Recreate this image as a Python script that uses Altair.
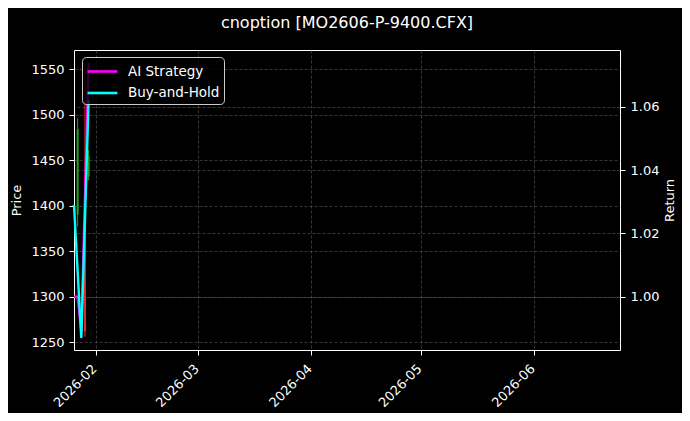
import altair as alt
import pandas as pd

# ---- data ----
candle_dates = ["2026-01-27", "2026-01-29", "2026-01-30"]
candle_open = [1390, 1420, 1432]
candle_high = [1496, 1556, 1461]
candle_low = [1377, 1256, 1428]
candle_close = [1484, 1262, 1455]

ai_dates = ["2026-01-26", "2026-01-27", "2026-01-28", "2026-01-30"]
ai_values = [1.000, 1.000, 0.989, 1.074]
bh_dates = ["2026-01-26", "2026-01-28", "2026-01-30"]
bh_values = [1.029, 0.987, 1.062]

series_names = ["AI Strategy", "Buy-and-Hold"]
series_colors = ["#ff00ff", "#00ffff"]

price_ticks = [1250, 1300, 1350, 1400, 1450, 1500, 1550]
return_ticks = [1.00, 1.02, 1.04, 1.06]
month_ticks = [2, 3, 4, 5, 6]
price_domain = [1241.5, 1571]
return_domain = [0.9832, 1.0779]

title_text = "cnoption [MO2606-P-9400.CFX]"

# ---- tables ----
cdf = pd.DataFrame({
    "date": candle_dates,
    "open": candle_open,
    "high": candle_high,
    "low": candle_low,
    "close": candle_close,
})
cdf["dir"] = ["up" if c >= o else "down" for o, c in zip(candle_open, candle_close)]

ldf = pd.concat([
    pd.DataFrame({"date": ai_dates, "value": ai_values, "series": series_names[0]}),
    pd.DataFrame({"date": bh_dates, "value": bh_values, "series": series_names[1]}),
], ignore_index=True)

FONT = "DejaVu Sans"

x_scale = alt.Scale(
    type="utc",
    nice=False,
    padding=0,
    domain=[alt.DateTime(year=2026, month=1, date=26, utc=True),
            alt.DateTime(year=2026, month=6, date=24, hours=12, utc=True)],
)
x_axis = alt.Axis(
    values=[alt.DateTime(year=2026, month=m, date=1, utc=True) for m in month_ticks],
    labelExpr="utcFormat(datum.value, '%Y-%m')",
    labelAngle=-45, labelAlign="right",
    labelBaseline="top", labelOffset=-6, labelPadding=7, grid=True, title=None,
)
x_enc = alt.X("date:T", scale=x_scale, axis=x_axis)

price_scale = alt.Scale(domain=price_domain, nice=False, zero=False)
price_axis = alt.Axis(values=price_ticks, orient="left", title="Price",
                      grid=True, titlePadding=7, format="d")
candle_color = alt.Color("dir:N",
                         scale=alt.Scale(domain=["up", "down"], range=["#22a022", "#e8282a"]),
                         legend=None)

wick = alt.Chart(cdf).mark_rule(strokeWidth=1).encode(
    x=x_enc,
    y=alt.Y("low:Q", scale=price_scale, axis=price_axis),
    y2="high:Q",
    color=candle_color,
)
body = alt.Chart(cdf).mark_bar(size=2).encode(
    x=x_enc,
    y=alt.Y("open:Q", scale=price_scale, axis=price_axis),
    y2="close:Q",
    color=candle_color,
)
price_layer = alt.layer(wick, body)

return_scale = alt.Scale(domain=return_domain, nice=False, zero=False)
return_axis = alt.Axis(values=return_ticks, orient="right", title="Return",
                       grid=True, format=".2f", titlePadding=5,
                       titleAngle=270, titleBaseline="top")

lines = alt.Chart(ldf).mark_line(strokeWidth=2.4).encode(
    x=x_enc,
    y=alt.Y("value:Q", scale=return_scale, axis=return_axis),
    color=alt.Color(
        "series:N",
        scale=alt.Scale(domain=series_names, range=series_colors),
        legend=alt.Legend(
            title=None, orient="none", legendX=8, legendY=7,
            symbolType="M-1,0L2.333,0", symbolSize=324, symbolStrokeWidth=2.6,
            labelOffset=21, labelFontSize=13.5, labelColor="white", labelFont=FONT,
            padding=4, rowPadding=4.5,
            fillColor="rgba(0,0,0,0.8)", strokeColor="#cccccc", cornerRadius=4,
        ),
    ),
)

chart = alt.layer(price_layer, lines).resolve_scale(
    y="independent", color="independent"
).properties(
    width=546,
    height=300,
    background="black",
    autosize=alt.AutoSizeParams(type="none"),
    padding={"left": 66, "top": 42, "right": 62, "bottom": 63},
    title=alt.TitleParams(title_text, fontSize=16, font=FONT, color="white",
                          fontWeight="normal", anchor="middle",
                          baseline="alphabetic", offset=6),
).configure_view(
    stroke="white", strokeWidth=1,
).configure_axis(
    labelColor="white", titleColor="white", domain=False,
    tickColor="white", tickSize=5, labelPadding=5,
    labelFont=FONT, titleFont=FONT, labelFontSize=13, titleFontSize=13,
    titleFontWeight="normal",
    gridColor="#5a5a5a", gridDash=[3, 2], gridWidth=0.6,
)

chart.save("out.html", embed_options={"renderer": "svg", "actions": False})
